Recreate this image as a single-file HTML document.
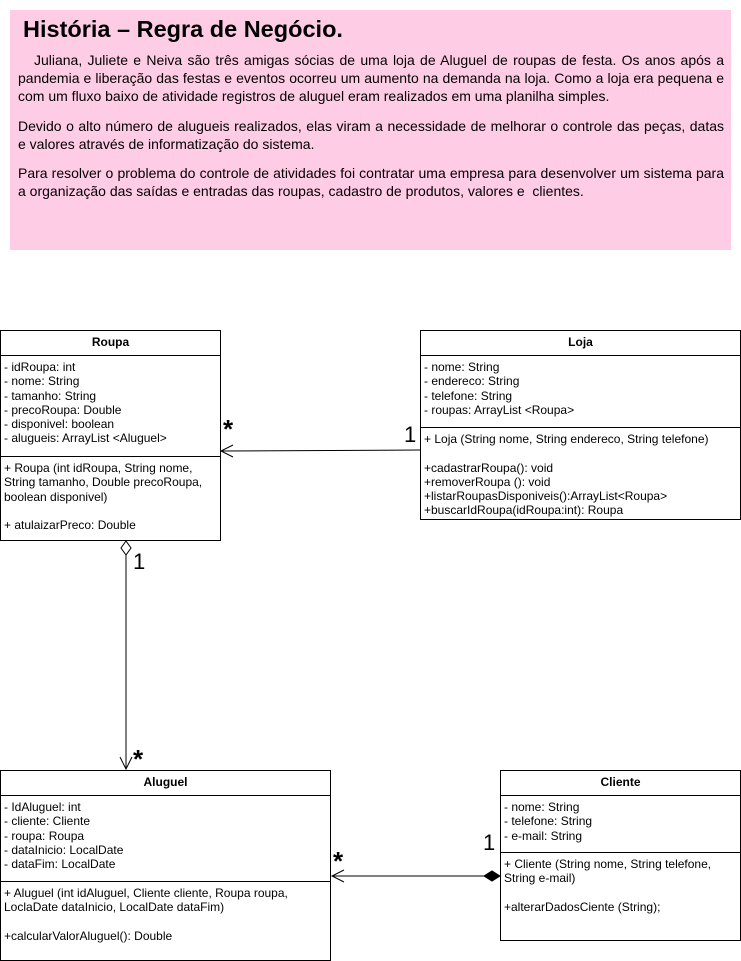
<!DOCTYPE html>
<html><head><meta charset="utf-8"><style>
body{margin:0;width:741px;height:961px;background:#fff;position:relative;overflow:hidden;font-family:"Liberation Sans",Arial,sans-serif;}
.pink{position:absolute;left:10px;top:10px;width:721px;height:240px;background:#ffcce6;}
.title{position:absolute;left:13px;top:6px;font-size:23.5px;font-weight:bold;}
.p{position:absolute;left:8px;width:706px;font-size:14px;line-height:18px;text-align:justify;color:#000;}
.box{position:absolute;border:1px solid #000;background:#fff;box-sizing:border-box;font-size:12px;}
.hd{height:24px;line-height:22px;text-align:center;font-weight:bold;border-bottom:1px solid #000;}
.sec{padding:4px 3px 3px 3px;line-height:14.3px;}
.sep{border-bottom:1px solid #000;}
.m{position:absolute;font-size:22px;}
.s{position:absolute;font-size:26px;font-weight:bold;}
</style></head><body>
<div class="pink">
<div class="title">História – Regra de Negócio.</div>
<div class="p" style="top:41px">&nbsp;&nbsp;&nbsp;Juliana, Juliete e Neiva são três amigas sócias de uma loja de Aluguel de roupas de festa. Os anos após a pandemia e liberação das festas e eventos ocorreu um aumento na demanda na loja. Como a loja era pequena e com um fluxo baixo de atividade registros de aluguel eram realizados em uma planilha simples.</div>
<div class="p" style="top:107px">Devido o alto número de alugueis realizados, elas viram a necessidade de melhorar o controle das peças, datas e valores através de informatização do sistema.</div>
<div class="p" style="top:154px">Para resolver o problema do controle de atividades foi contratar uma empresa para desenvolver um sistema para a organização das saídas e entradas das roupas, cadastro de produtos, valores e&nbsp; clientes.</div>
</div>

<div class="box" style="left:0;top:330px;width:221px;height:211px">
<div class="hd">Roupa</div>
<div class="sec sep" style="height:101px;box-sizing:border-box">- idRoupa: int<br>- nome: String<br>- tamanho: String<br>- precoRoupa: Double<br>- disponivel: boolean<br>- alugueis: ArrayList &lt;Aluguel&gt;</div>
<div class="sec">+ Roupa (int idRoupa, String nome, String tamanho, Double precoRoupa, boolean disponivel)<br><br>+ atulaizarPreco: Double</div>
</div>

<div class="box" style="left:420px;top:330px;width:321px;height:190px">
<div class="hd">Loja</div>
<div class="sec sep" style="height:72px;box-sizing:border-box">- nome: String<br>- endereco: String<br>- telefone: String<br>- roupas: ArrayList &lt;Roupa&gt;</div>
<div class="sec">+ Loja (String nome, String endereco, String telefone)<br><br>+cadastrarRoupa(): void<br>+removerRoupa (): void<br>+listarRoupasDisponiveis():ArrayList&lt;Roupa&gt;<br>+buscarIdRoupa(idRoupa:int): Roupa</div>
</div>

<div class="box" style="left:0;top:770px;width:331px;height:191px">
<div class="hd">Aluguel</div>
<div class="sec sep" style="height:86px;box-sizing:border-box">- IdAluguel: int<br>- cliente: Cliente<br>- roupa: Roupa<br>- dataInicio: LocalDate<br>- dataFim: LocalDate</div>
<div class="sec">+ Aluguel (int idAluguel, Cliente cliente, Roupa roupa, LoclaDate dataInicio, LocalDate dataFim)<br><br>+calcularValorAluguel(): Double</div>
</div>

<div class="box" style="left:500px;top:770px;width:241px;height:171px">
<div class="hd">Cliente</div>
<div class="sec sep" style="height:57px;box-sizing:border-box">- nome: String<br>- telefone: String<br>- e-mail: String</div>
<div class="sec">+ Cliente (String nome, String telefone, String e-mail)<br><br>+alterarDadosCiente (String);</div>
</div>

<svg style="position:absolute;left:0;top:0" width="741" height="961">
<g stroke="#000" fill="none" stroke-width="1">
<line x1="420" y1="450" x2="221" y2="451"/>
<polyline points="233,445 221,451 233,457"/>
<polygon points="126,541 131,548 126,555 121,548" fill="#fff"/>
<line x1="126" y1="555" x2="126" y2="769"/>
<polyline points="120,757 126,769 132,757"/>
<line x1="490" y1="876" x2="332" y2="876"/>
<polyline points="344,870 332,876 344,882"/>
<polygon points="500,876 492,871 484,876 492,881" fill="#000"/>
</g>
</svg>
<div class="s" style="left:223px;top:414px">*</div>
<div class="m" style="left:404px;top:422px">1</div>
<div class="m" style="left:133px;top:549px">1</div>
<div class="s" style="left:133px;top:744px">*</div>
<div class="s" style="left:333px;top:846px">*</div>
<div class="m" style="left:483px;top:830px">1</div>
</body></html>
